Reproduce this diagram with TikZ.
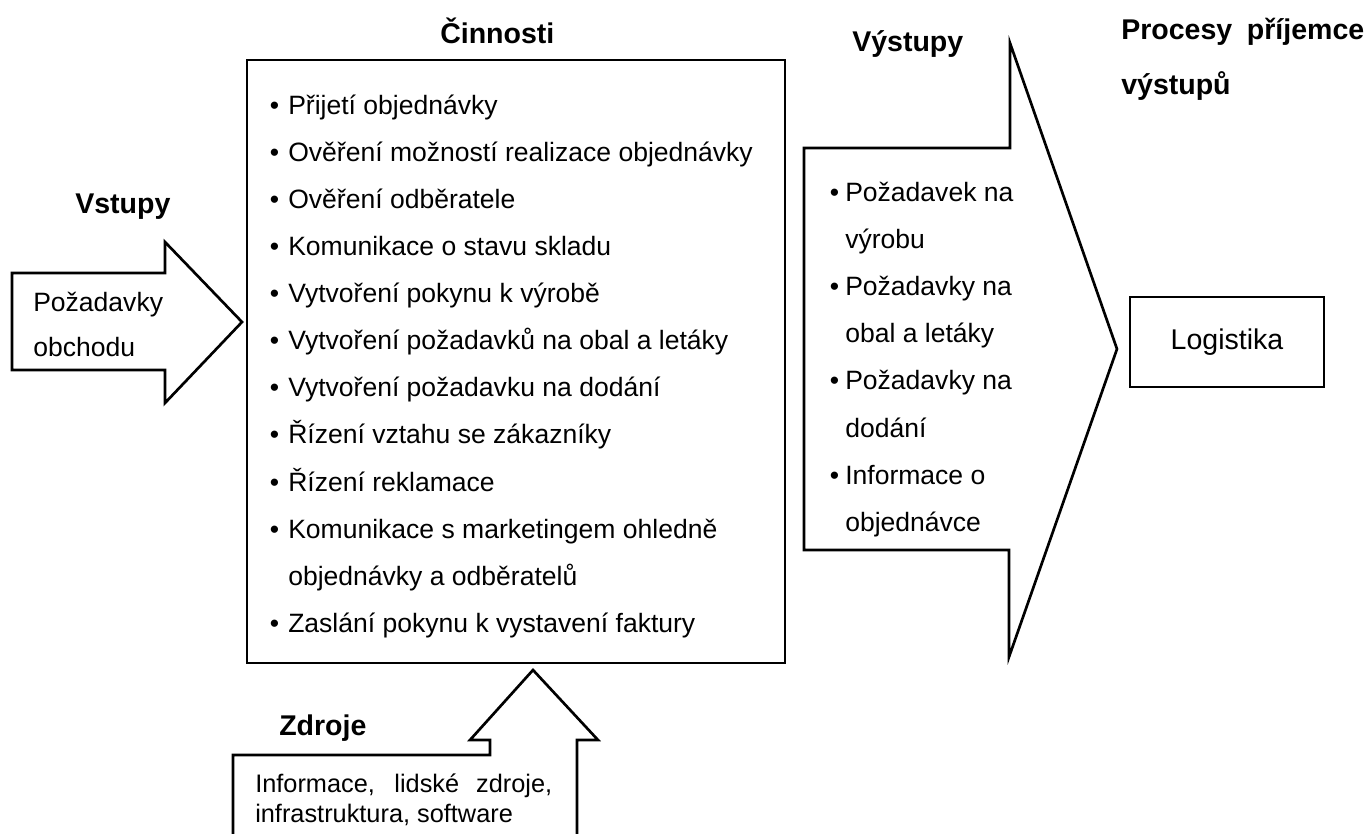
\documentclass[tikz,border=0pt]{standalone}
\usepackage{fontspec}
\setmainfont{Liberation Sans}
\newcommand\itembul[1]{\llap{\textbullet\hspace{#1}}}
\begin{document}
\begin{tikzpicture}[x=0.75pt,y=-0.75pt,
  outline/.style={draw=black,line width=2pt,line join=miter,fill=white},
  txt/.style={inner sep=0pt,anchor=base west,font=\fontsize{19.9}{24}\selectfont},
  smalltxt/.style={inner sep=0pt,anchor=base west,font=\fontsize{19}{23}\selectfont},
  heading/.style={inner sep=0pt,anchor=base west,font=\fontsize{21.4}{26}\selectfont\bfseries},
  mainbullet/.style={txt,execute at begin node=\itembul{6.75pt}},
  outbullet/.style={txt,execute at begin node=\itembul{4.5pt}}]
\useasboundingbox (0,0) rectangle (1372,834);
\clip (0,0) rectangle (1372,834);

% Inputs: arrow pointing right into the activity box
\draw[outline] (12,273) -- (165,273) -- (165,242) -- (242,322) -- (165,403)
  -- (165,370) -- (12,370) -- cycle;
\node[heading] (vstupy) at (75,214) {Vstupy};
\node[txt] (in1) at (33,312) {Požadavky};
\node[txt] (in2) at (33,357) {obchodu};

% Activities
\node[heading] (cinnosti) at (440,44) {Činnosti};
\draw[outline] (247,60) rectangle (785,663);
\node[mainbullet] (a1)  at (288,115) {Přijetí objednávky};
\node[mainbullet] (a2)  at (288,162) {Ověření možností realizace objednávky};
\node[mainbullet] (a3)  at (288,209) {Ověření odběratele};
\node[mainbullet] (a4)  at (288,256) {Komunikace o stavu skladu};
\node[mainbullet] (a5)  at (288,303) {Vytvoření pokynu k výrobě};
\node[mainbullet] (a6)  at (288,350) {Vytvoření požadavků na obal a letáky};
\node[mainbullet] (a7)  at (288,397) {Vytvoření požadavku na dodání};
\node[mainbullet] (a8)  at (288,444) {Řízení vztahu se zákazníky};
\node[mainbullet] (a9)  at (288,491) {Řízení reklamace};
\node[mainbullet] (a10) at (288,538) {Komunikace s marketingem ohledně};
\node[txt]        (a11) at (288,585) {objednávky a odběratelů};
\node[mainbullet] (a12) at (288,632) {Zaslání pokynu k vystavení faktury};

% Resources: arrow pointing up into the activity box
\draw[outline] (233,850) -- (233,755) -- (490,755) -- (490,740) -- (470,740)
  -- (533,670) -- (598,740) -- (577,740) -- (577,850);
\node[heading] (zdroje) at (279,735) {Zdroje};
\node[smalltxt] (r1) at (255,792) {\makebox[222.75pt][s]{Informace, lidské zdroje,}};
\node[smalltxt] (r2) at (255,822) {infrastruktura, software};

% Outputs: large arrow pointing right
\node[heading] (vystupy) at (852,52) {Výstupy};
\draw[outline] (804,148) -- (1010,148) -- (1010,43) -- (1117,349) -- (1009,657)
  -- (1009,550) -- (804,550) -- cycle;
\node[outbullet] (o1) at (845,202) {Požadavek na};
\node[txt]       (o2) at (845,249) {výrobu};
\node[outbullet] (o3) at (845,296) {Požadavky na};
\node[txt]       (o4) at (845,343) {obal a letáky};
\node[outbullet] (o5) at (845,390) {Požadavky na};
\node[txt]       (o6) at (845,437) {dodání};
\node[outbullet] (o7) at (845,484) {Informace o};
\node[txt]       (o8) at (845,531) {objednávce};

% Receiving process
\node[heading] (proc1) at (1121,40) {Procesy\hspace{5pt} příjemce};
\node[heading] (proc2) at (1121,95) {výstupů};
\node[draw=black,line width=2pt,fill=white,minimum width=194*0.75pt,
  minimum height=90*0.75pt,inner sep=0pt,
  font=\fontsize{21.4}{26}\selectfont] (logistika) at (1227,342) {Logistika};
\end{tikzpicture}
\end{document}
